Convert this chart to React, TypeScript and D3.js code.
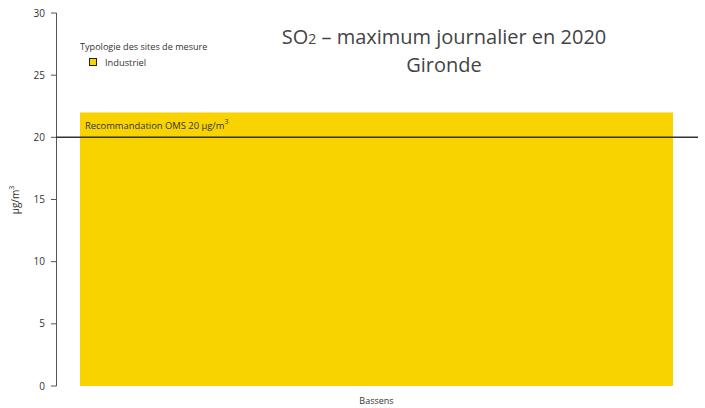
import React from "react";
import * as d3 from "d3";

const categories = ["Bassens"];
const values = [22];
const yTicks = [0, 5, 10, 15, 20, 25, 30];
const threshold = 20;
const legendTitle = "Typologie des sites de mesure";
const legendItems = ["Industriel"];

export default function App() {
  const W = 705, H = 408;
  const y = d3.scaleLinear().domain([0, 30]).range([386, 13]);
  const font = "'Open Sans', 'Noto Sans', sans-serif";
  const color = "#F9D300";
  return (
    <svg width={W} height={H} style={{ position: "absolute", left: 0, top: 0, fontFamily: font }}>
      {categories.map((c, i) => (
        <rect key={c} x={80} y={y(values[i])} width={593} height={y(0) - y(values[i])} fill={color} />
      ))}
      <line x1={56.5} x2={56.5} y1={y(30)} y2={y(0)} stroke="#555" strokeWidth={1} />
      {yTicks.map((t) => (
        <g key={t}>
          <line x1={51} x2={56.5} y1={y(t)} y2={y(t)} stroke="#555" />
          <text x={45} y={y(t)} dy="0.35em" textAnchor="end" fontSize={10} fill="#333">{t}</text>
        </g>
      ))}
      <text transform={`translate(19,${200}) rotate(-90)`} textAnchor="middle" fontSize={10} fill="#333">
        µg/m<tspan dy={-5} fontSize={7}>3</tspan>
      </text>
      <line x1={56} x2={698} y1={y(threshold)} y2={y(threshold)} stroke="#333" strokeWidth={1.5} />
      <text x={85} y={129} fontSize={9.4} fill="#333">
        Recommandation OMS 20 µg/m<tspan dy={-5} fontSize={7}>3</tspan>
      </text>
      {categories.map((c) => (
        <text key={c} x={(80 + 673) / 2} y={404} textAnchor="middle" fontSize={9} fill="#333">{c}</text>
      ))}
      <text x={80} y={50} fontSize={9.1} fill="#333">{legendTitle}</text>
      {legendItems.map((l, i) => (
        <g key={l}>
          <rect x={89.5} y={58.5 + i * 14} width={7} height={7} fill={color} stroke="#222" strokeWidth={1} />
          <text x={105} y={66 + i * 14} fontSize={9.3} fill="#333">{l}</text>
        </g>
      ))}
      <text x={444} y={44} textAnchor="middle" fontSize={20} fill="#444">
        SO<tspan fontSize={14}>2</tspan> – maximum journalier en 2020
      </text>
      <text x={444} y={72} textAnchor="middle" fontSize={20} fill="#444">Gironde</text>
    </svg>
  );
}
